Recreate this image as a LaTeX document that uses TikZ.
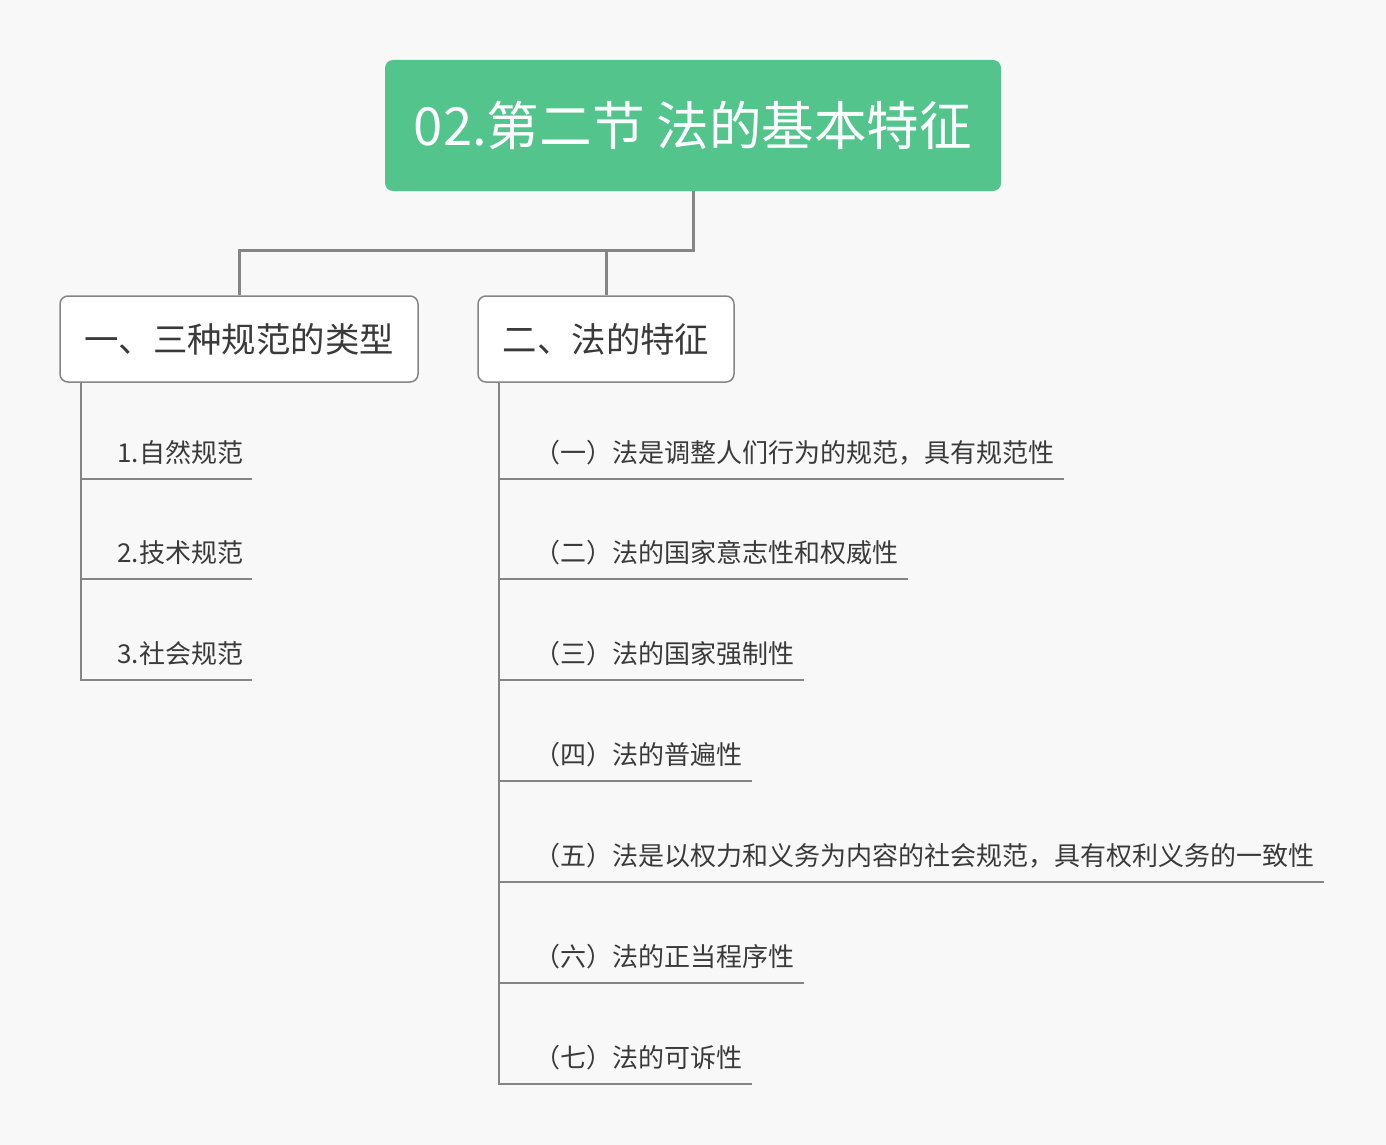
\documentclass[tikz,border=0pt]{standalone}
\usepackage{fontspec}
\setmainfont{Noto Sans CJK SC}
\definecolor{rootgreen}{HTML}{52C48C}
\definecolor{pagebg}{HTML}{F8F8F8}
\definecolor{linegray}{HTML}{858585}
\definecolor{textgray}{HTML}{3A3A3A}

\begin{document}
\begin{tikzpicture}[x=0.5pt,y=-0.5pt]
\tikzstyle{every node}=[font=\fontsize{13}{15}\selectfont, text=textgray]
\tikzstyle{root}=[fill=rootgreen, rounded corners=4pt, minimum width=308pt, minimum height=65.5pt, text=white, font=\fontsize{26.3}{30}\selectfont]
\tikzstyle{topic}=[draw=linegray, line width=0.75pt, fill=white, rounded corners=4pt, minimum height=43pt, font=\fontsize{17.2}{21}\selectfont]
\tikzstyle{leaf}=[anchor=south west, inner xsep=4.5pt, inner ysep=8pt, text depth=0pt]
\tikzstyle{link}=[draw=linegray, line width=1.5pt]
\tikzstyle{branch}=[draw=linegray, line width=1pt]

\fill[pagebg] (0,0) rectangle (1386,1145);

\node[root] (root) at (693,125.5) {02.第二节 法的基本特征};

\node[topic, minimum width=179pt] (types) at (239,339) {一、三种规范的类型};
\node[topic, minimum width=128pt] (traits) at (606,339) {二、法的特征};

\coordinate (fork) at (693,250);
\draw[link] (root.south) -- (fork) -| (types.north);
\draw[link] (fork -| traits.north) -- (traits.north);

% 三种规范
\node[leaf] (n1) at (108,479) {1.自然规范};
\node[leaf] (n2) at (108,579) {2.技术规范};
\node[leaf] (n3) at (108,680) {3.社会规范};

\coordinate (spineA) at (81,382);
\draw[branch] (spineA) |- (n3.south east);
\foreach \n in {n1,n2}
  \draw[branch] (spineA |- \n.south) -- (\n.south east);

% 法的特征
\node[leaf] (f1) at (525,479) {（一）法是调整人们行为的规范，具有规范性};
\node[leaf] (f2) at (525,579) {（二）法的国家意志性和权威性};
\node[leaf] (f3) at (525,680) {（三）法的国家强制性};
\node[leaf] (f4) at (525,781) {（四）法的普遍性};
\node[leaf] (f5) at (525,882) {（五）法是以权力和义务为内容的社会规范，具有权利义务的一致性};
\node[leaf] (f6) at (525,983) {（六）法的正当程序性};
\node[leaf] (f7) at (525,1084) {（七）法的可诉性};

\coordinate (spineB) at (499,382);
\draw[branch] (spineB) |- (f7.south east);
\foreach \n in {f1,f2,f3,f4,f5,f6}
  \draw[branch] (spineB |- \n.south) -- (\n.south east);

\end{tikzpicture}
\end{document}
